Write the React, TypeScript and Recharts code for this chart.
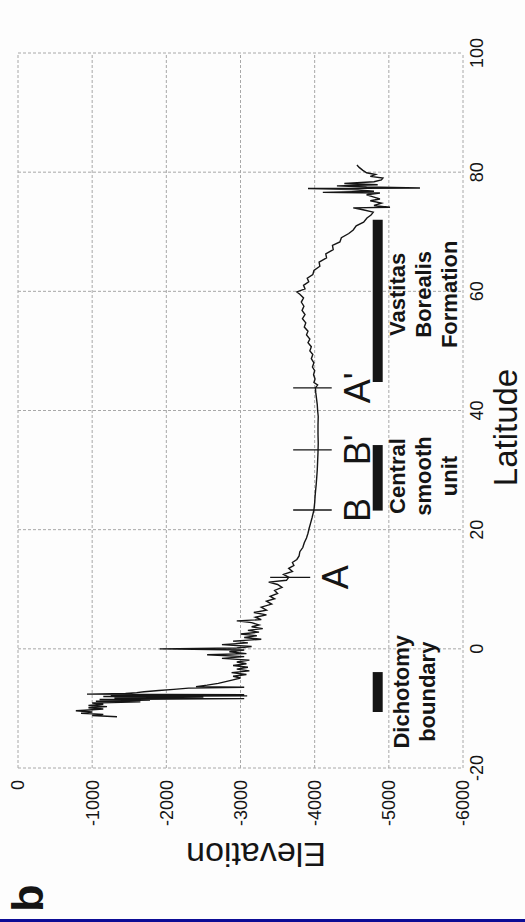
import { LineChart, Line, XAxis, YAxis, CartesianGrid, ReferenceLine, ReferenceDot } from 'recharts';

// chart is drawn upright (latitude across, elevation down) then turned -90deg as in the scan
const W = 922;
const H = 525;

const latTicks = [-20, 0, 20, 40, 60, 80, 100];
const elevTicks = [0, -1000, -2000, -3000, -4000, -5000, -6000];

// MOLA-style profile
const profileLat = [
  -11.4, -11.2, -11.0, -10.8, -10.6, -10.4, -10.3, -10.1, -9.9, -9.7, -9.5, -9.3, -9.1, -8.9, -8.8, -8.6, -8.5,
  -8.35, -8.25, -8.1, -8.0, -7.9, -7.8, -7.7, -7.6, -7.5, -7.35, -7.2, -7.0, -6.8, -6.6, -6.45, -6.35, -6.1, -5.8,
  -5.5, -5.2, -4.9,
  -4.6, -4.3, -4.0, -3.7, -3.4, -3.1, -2.8, -2.5, -2.2, -1.9, -1.6, -1.3, -1.0, -0.8, -0.5, -0.2, 0.0, 0.15, 0.4,
  0.7, 1.0, 1.3, 1.6, 1.9, 2.2, 2.5, 2.8, 3.1, 3.4, 3.7, 4.0, 4.4, 4.7, 4.9, 5.3, 5.7, 6.1, 6.5, 7.0, 7.5, 8.0,
  8.4, 8.8, 9.3, 9.8, 10.3, 10.8, 11.2, 11.5, 12.0, 12.5, 13.0, 13.5, 14.0, 14.5, 15.0, 15.6, 16.3, 17.0, 17.8,
  18.6, 19.4, 20.2, 21.1, 22.0, 23.3,
  24.5, 25.5, 26.5, 27.5, 28.8, 30.0, 31.5, 33.0, 34.5, 36.0, 37.5, 39.0, 40.0, 41.0, 42.0, 43.0, 43.8, 44.3,
  44.7, 45.3, 46.0,
  46.7, 47.3, 48.0, 48.7, 49.4, 50.0, 50.7, 51.4, 52.0, 52.7, 53.3, 54.0, 54.7, 55.4, 56.1, 56.8, 57.5, 58.2,
  58.9, 59.5, 59.9, 60.4, 61.0, 61.6, 62.2, 62.8, 63.5, 64.2, 64.9, 65.6, 66.3, 67.0, 67.7, 68.3, 69.0, 69.7,
  70.3, 71.0, 71.6, 72.3, 72.8, 73.3,
  73.7, 74.0, 74.1, 74.4, 74.8, 75.2, 75.5, 75.8, 76.2, 76.5, 76.6, 76.8, 77.1, 77.25, 77.35, 77.5, 77.7, 77.9,
  78.1, 78.4, 78.7, 79.0, 79.3, 79.6, 79.9, 80.3, 80.8, 81.2,
];
const profileElev = [
  -1335, -1000, -1150, -850, -1000, -780, -900, -1150, -950, -1200, -950, -1150, -1000, -1650, -1050, -1780, -1100,
  -3050, -1300, -2500, -1150, -3090, -1250, -3050, -930, -1450, -1600, -1700, -1900, -2100, -2300, -3050, -2400,
  -2550, -2700, -2800, -2900, -3000,
  -2900, -3080, -2880, -3120, -2950, -3100, -2900, -3080, -2950, -3120, -2750, -3050, -2550, -3080, -2850, -3050,
  -1910, -2950, -3150, -2750, -3100, -2900, -3280, -3050, -3220, -3000, -3250, -3100, -3300, -3150, -3250, -3150,
  -2950, -3280, -3200, -3350, -3180, -3350, -3280, -3420, -3350, -3460, -3400, -3500, -3460, -3560, -3500, -3380,
  -3620, -3650, -3580, -3700, -3650, -3720, -3700, -3760, -3790, -3800, -3840, -3860, -3890, -3910, -3925, -3945,
  -3965, -3990,
  -4000, -4005, -4012, -4020, -4028, -4035, -4040, -4045, -4048, -4045, -4045, -4048, -4040, -4035, -4025, -4015,
  -4010, -4040, -3990, -4005, -3985,
  -4000, -3970, -3990, -3955, -3975, -3935, -3955, -3910, -3935, -3890, -3910, -3860, -3880, -3835, -3870, -3830,
  -3855, -3820, -3850, -3800, -3760, -3870, -3850, -3920, -3900, -3975, -3990, -4070, -4060, -4160, -4150, -4250,
  -4240, -4340, -4360, -4460, -4520, -4560, -4660, -4705, -4760, -4790,
  -4650, -4520, -5016, -4800, -4900, -4750, -4880, -4800, -4700, -4880, -4110, -4800, -4500, -3910, -5420, -4700,
  -4300, -4850, -4400, -4800, -4900, -4920, -4750, -4820, -4700, -4650, -4600, -4570,
];

// section markers A, B, B', A' (latitude, elevation span)
const markerNames = ['A', 'B', "B'", "A'"];
const markerLat = [12.0, 23.3, 33.4, 43.8];
const markerTop = [-3400, -3710, -3710, -3710];
const markerBottom = [-3940, -4230, -4230, -4230];

// unit bars (latitude ranges)
const unitNames = [['Dichotomy', 'boundary'], ['Central', 'smooth', 'unit'], ['Vastitas', 'Borealis', 'Formation']];
const unitFrom = [-10.6, 23.2, 44.8];
const unitTo = [-3.9, 34.2, 72.0];
const unitTextLat = [-7.2, 29.0, 59.5];
const barElev = -4850;

const profile = profileLat.map((lat, i) => ({ lat, elev: profileElev[i] }));

const FONT = '"Liberation Sans", Arial, Helvetica, sans-serif';
const INK = '#151515';

const multiLine = (lines: string[], size: number, weight: number, pitch: number) => (props: any) => {
  const { x, y } = props.viewBox;
  return (
    <text x={x} y={y} textAnchor="middle" fontFamily={FONT} fontSize={size} fontWeight={weight} fill={INK}>
      {lines.map((l, i) => (
        <tspan key={i} x={x} dy={i === 0 ? 0 : pitch}>{l}</tspan>
      ))}
    </text>
  );
};

const latTitle = (props: any) => {
  const { x, y, width } = props.viewBox;
  return (
    <text x={x + width / 2 - 17} y={y + 54} textAnchor="middle" fontFamily={FONT} fontSize={33} fill={INK}>Latitude</text>
  );
};

const elevTitle = (props: any) => {
  const cx = 79;
  const cy = 256;
  return (
    <text x={cx} y={cy} transform={`rotate(-90, ${cx}, ${cy})`} textAnchor="middle" fontFamily={FONT} fontSize={34} fill={INK}>Elevation</text>
  );
};

export default function App() {
  return (
    <div style={{ position: 'absolute', left: 0, top: 0, width: 525, height: 922, background: '#fdfdfd', overflow: 'hidden' }}>
      <div style={{ position: 'absolute', left: 0, top: 0, width: W, height: H, transformOrigin: '0 0', transform: `translateY(${W}px) rotate(-90deg)` }}>
        <LineChart width={W} height={H} data={profile} margin={{ top: 18, right: 53, bottom: 0, left: 0 }}>
          <CartesianGrid stroke="#a8a8a8" strokeDasharray="3 2" strokeWidth={1} />
          <XAxis
            type="number"
            dataKey="lat"
            domain={[-20, 100]}
            ticks={latTicks}
            height={62}
            axisLine={false}
            tickLine={false}
            tickSize={0}
            tickMargin={7}
            tick={{ fill: INK, fontSize: 18, fontFamily: FONT }}
            label={latTitle}
          />
          <YAxis
            type="number"
            domain={[-6000, 0]}
            ticks={elevTicks}
            width={154}
            axisLine={false}
            tickLine={false}
            tickSize={0}
            tickMargin={12}
            tick={{ fill: INK, fontSize: 18, fontFamily: FONT }}
            label={elevTitle}
          />
          {markerLat.map((lat, i) => (
            <ReferenceLine key={'m' + i} segment={[{ x: lat, y: markerTop[i] }, { x: lat, y: markerBottom[i] }]} stroke={INK} strokeWidth={1.3} />
          ))}
          {unitFrom.map((from, i) => (
            <ReferenceLine key={'u' + i} segment={[{ x: from, y: barElev }, { x: unitTo[i], y: barElev }]} stroke={INK} strokeWidth={10} />
          ))}
          <Line
            type="linear"
            dataKey="elev"
            stroke={INK}
            strokeWidth={1.4}
            dot={false}
            isAnimationActive={false}
          />
          {markerLat.map((lat, i) => (
            <ReferenceDot
              key={'ml' + i}
              x={lat}
              y={i === 0 ? -4449 : -4746}
              r={0}
              fill="none"
              stroke="none"
              label={multiLine([markerNames[i]], 36, 400, 0)}
            />
          ))}
          {unitTextLat.map((lat, i) => (
            <ReferenceDot
              key={'ul' + i}
              x={lat}
              y={i === 0 ? -5272 : -5218}
              r={0}
              fill="none"
              stroke="none"
              label={multiLine(unitNames[i], 22, 700, 26)}
            />
          ))}
        </LineChart>
        <svg width={W} height={H} style={{ position: 'absolute', left: 0, top: 0, pointerEvents: 'none' }}>
          <text x={10} y={43} fontFamily={FONT} fontSize={45} fontWeight={700} fill={INK}>b</text>
        </svg>
      </div>
      <div style={{ position: 'absolute', left: 0, bottom: 0, width: 525, height: 3, background: '#0c0c96' }} />
    </div>
  );
}
